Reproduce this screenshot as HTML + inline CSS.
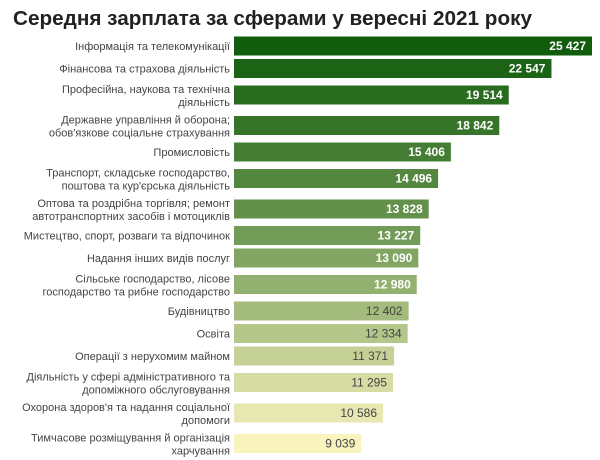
<!DOCTYPE html>
<html><head><meta charset="utf-8"><style>
html,body{margin:0;padding:0;background:#fff;}
svg{display:block;font-family:"Liberation Sans","DejaVu Sans",sans-serif;}
</style></head><body>
<svg id="chart" width="600" height="460" viewBox="0 0 600 460">
<rect width="600" height="460" fill="#fff"/>
<text x="13" y="25" font-size="20" font-weight="bold" fill="#222" textLength="519" lengthAdjust="spacingAndGlyphs">Середня зарплата за сферами у вересні 2021 року</text>
<g id="bars"></g>
</svg>
<script>
const categories = [
 ["Інформація та телекомунікації"],
 ["Фінансова та страхова діяльність"],
 ["Професійна, наукова та технічна","діяльність"],
 ["Державне управління й оборона;","обов'язкове соціальне страхування"],
 ["Промисловість"],
 ["Транспорт, складське господарство,","поштова та кур'єрська діяльність"],
 ["Оптова та роздрібна торгівля; ремонт","автотранспортних засобів і мотоциклів"],
 ["Мистецтво, спорт, розваги та відпочинок"],
 ["Надання інших видів послуг"],
 ["Сільське господарство, лісове","господарство та рибне господарство"],
 ["Будівництво"],
 ["Освіта"],
 ["Операції з нерухомим майном"],
 ["Діяльність у сфері адміністративного та","допоміжного обслуговування"],
 ["Охорона здоров'я та надання соціальної","допомоги"],
 ["Тимчасове розміщування й організація","харчування"]
];
const values = [25427,22547,19514,18842,15406,14496,13828,13227,13090,12980,12402,12334,11371,11295,10586,9039];
const valueLabels = ["25 427","22 547","19 514","18 842","15 406","14 496","13 828","13 227","13 090","12 980","12 402","12 334","11 371","11 295","10 586","9 039"];

const NS="http://www.w3.org/2000/svg";
const x0=234, x1=592, maxV=25427;
function xScale(v){return x0+(v/maxV)*(x1-x0);}
const c0=[18,92,14], c1=[249,243,190];
function colorAt(i,n){
  const t=i/(n-1);
  const m=[0.0,0.0,0.0];
  // slightly nonlinear ramp
  const tt=Math.pow(t,1.15);
  const r=Math.round(c0[0]+(c1[0]-c0[0])*tt), g=Math.round(c0[1]+(c1[1]-c0[1])*tt), b=Math.round(c0[2]+(c1[2]-c0[2])*tt);
  return `rgb(${r},${g},${b})`;
}
const g=document.getElementById('bars');
let y=34.75;
categories.forEach((lines,i)=>{
  const h = lines.length===2 ? 30.5 : 22.5;
  const cy = y + h/2;
  y += h;
  const rect=document.createElementNS(NS,'rect');
  rect.setAttribute('x',x0);
  rect.setAttribute('y',cy-9.5);
  rect.setAttribute('width',xScale(values[i])-x0);
  rect.setAttribute('height',19);
  rect.setAttribute('fill',colorAt(i,categories.length));
  
  
  g.appendChild(rect);
  const vt=document.createElementNS(NS,'text');
  vt.setAttribute('x',xScale(values[i])-6);
  vt.setAttribute('y',cy+4);
  vt.setAttribute('text-anchor','end');
  vt.setAttribute('font-size','12');
  vt.setAttribute('fill', i<10 ? '#fff' : '#444');
  vt.setAttribute('font-weight', i<10 ? 'bold' : 'normal');
  vt.textContent=valueLabels[i];
  
  
  g.appendChild(vt);
  const lt=document.createElementNS(NS,'text');
  lt.setAttribute('x',230);
  lt.setAttribute('text-anchor','end');
  lt.setAttribute('font-size','11');
  lt.setAttribute('fill','#444');
  
  
  if(lines.length===1){
    lt.setAttribute('y',cy+4);
    lt.textContent=lines[0];
  } else {
    lines.forEach((s,k)=>{
      const ts=document.createElementNS(NS,'tspan');
      ts.setAttribute('x',230);
      ts.setAttribute('y',cy-2+k*13);
      ts.textContent=s;
      lt.appendChild(ts);
    });
  }
  g.appendChild(lt);
});
</script>
</body></html>
